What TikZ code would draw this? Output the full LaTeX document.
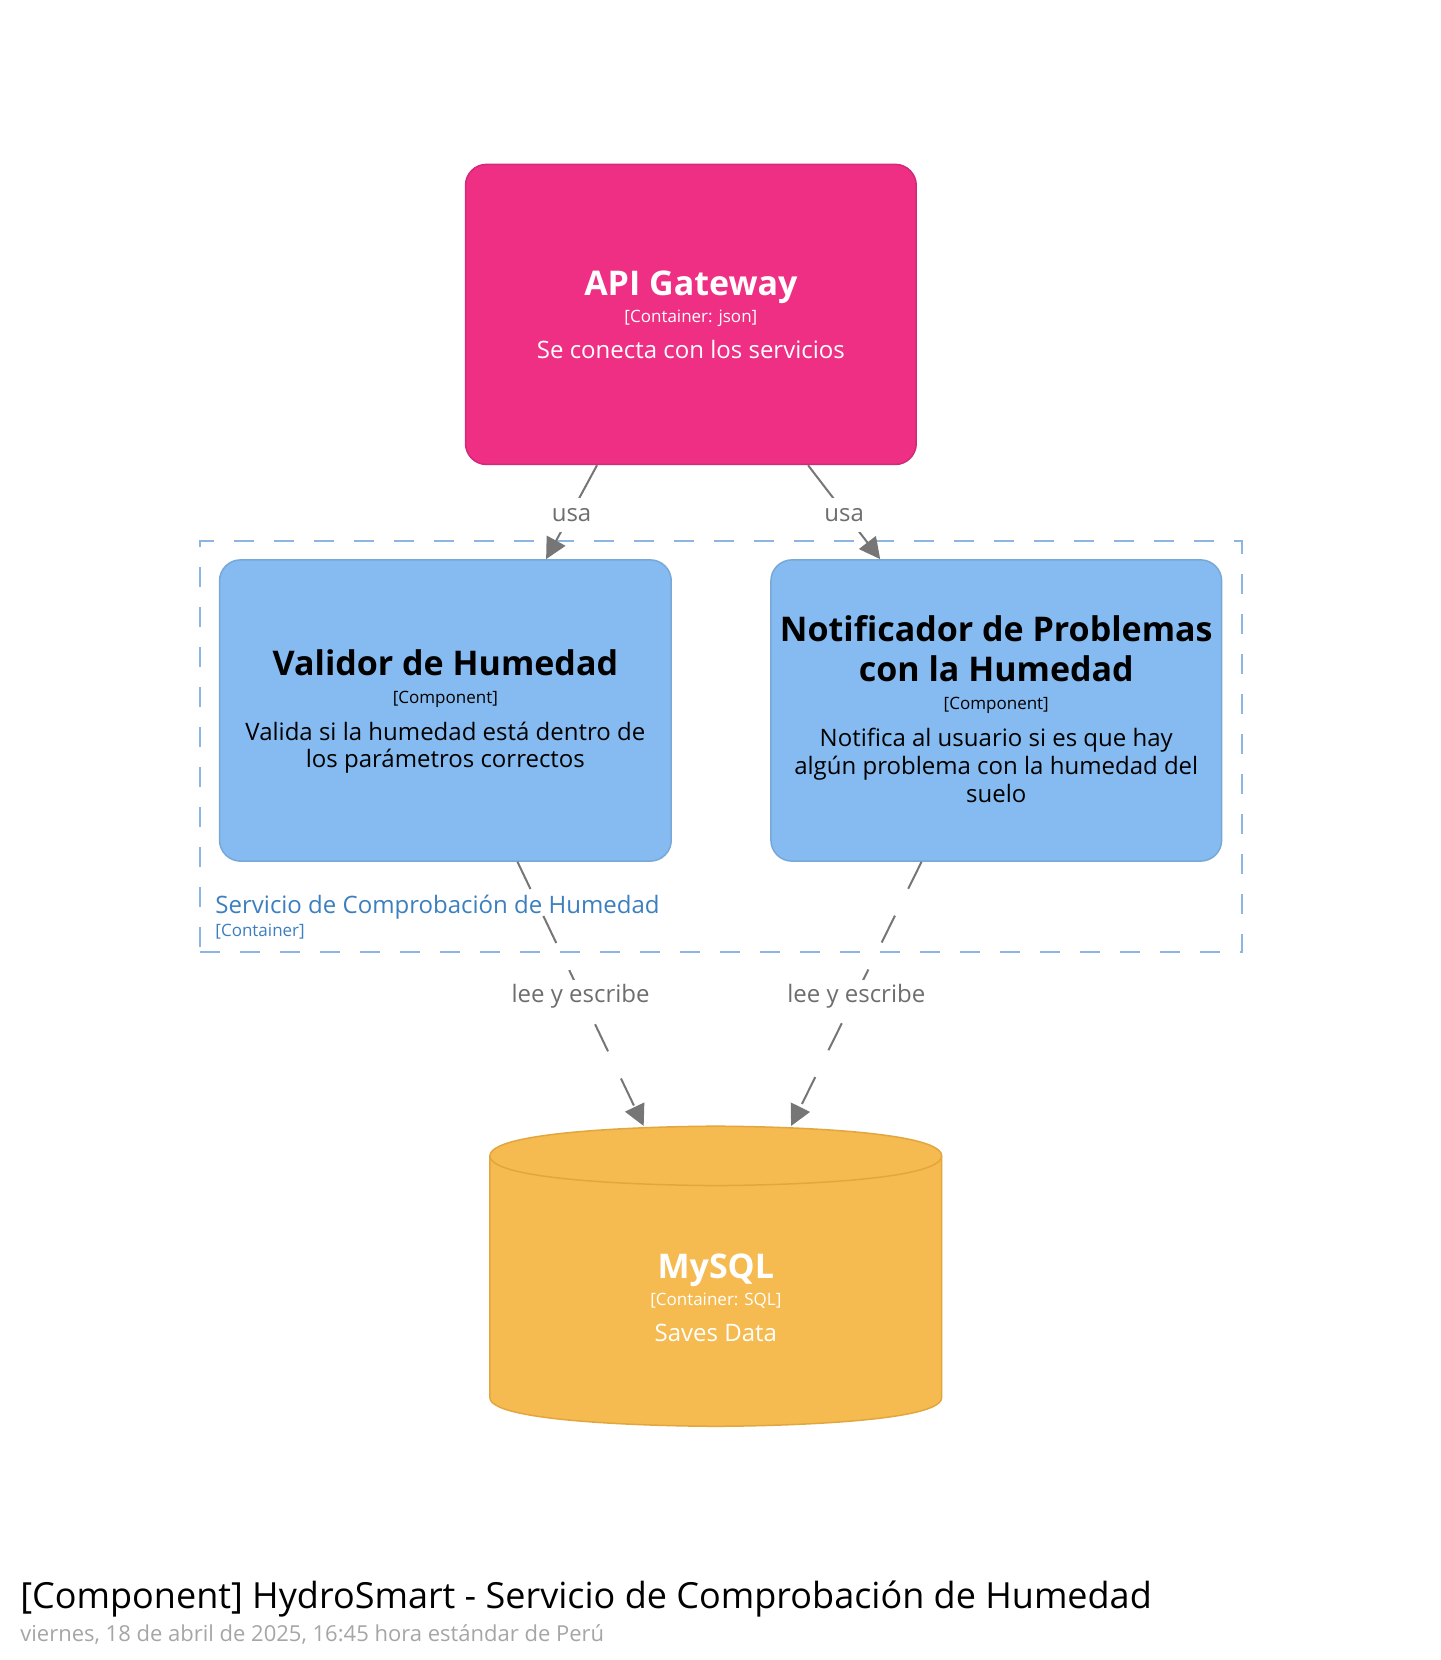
\documentclass[tikz,border=0pt]{standalone}
\usepackage{fontspec}
\setmainfont{Open Sans}
\usetikzlibrary{arrows.meta,calc}
\definecolor{apifill}{HTML}{EE2F84}
\definecolor{apiline}{HTML}{D2297A}
\definecolor{compfill}{HTML}{85BBF0}
\definecolor{compline}{HTML}{78A8D8}
\definecolor{dbfill}{HTML}{F5BB50}
\definecolor{dbline}{HTML}{E3A63E}
\definecolor{bound}{HTML}{8DB5E2}
\definecolor{boundtext}{HTML}{3C7FC0}
\definecolor{relline}{HTML}{767676}
\definecolor{reltext}{HTML}{6E6E6E}
\definecolor{datetext}{HTML}{A6A6A6}
\begin{document}
\begin{tikzpicture}[x=1.0604pt,y=-1.0604pt,
  box/.style={rounded corners=21pt, line width=1.5pt, inner sep=0pt},
  ttl/.style={anchor=base, inner sep=0pt, font=\fontsize{34}{39}\selectfont\bfseries},
  typ/.style={anchor=base, inner sep=0pt, font=\fontsize{17}{20}\selectfont},
  dsc/.style={anchor=base, inner sep=0pt, font=\fontsize{24}{28}\selectfont},
  rel/.style={draw=relline, line width=2pt, -{Triangle[length=21pt,width=21pt]}},
  reldash/.style={dash pattern=on 30pt off 30pt},
  rellbl/.style={fill=white, text=reltext, inner xsep=4pt, inner ysep=6pt, text height=17pt, text depth=5pt, yshift=-3pt, font=\fontsize{24}{28}\selectfont},
]
\useasboundingbox (0,0) rectangle (1358,1565.4);
\fill[white] (0,0) rectangle (1358,1565.4);

% container boundary
\node[draw=bound, line width=2pt, dash pattern=on 20pt off 20pt, minimum width=1041.3pt, minimum height=411.4pt, inner sep=0pt] (svc) at (680,704) {};
\node[anchor=base west, inner sep=0pt, text=boundtext, font=\fontsize{24}{28}\selectfont] (svc-t) at (203,861) {Servicio de Comprobación de Humedad};
\node[anchor=base west, inner sep=0pt, text=boundtext, font=\fontsize{17}{20}\selectfont] (svc-y) at (203,883) {[Container]};

% API Gateway
\node[box, fill=apifill, draw=apiline, minimum width=450.7pt, minimum height=300.1pt] (api) at (651.5,296.5) {};
\node[ttl, text=white] (api-t) at (651.5,279) {API Gateway};
\node[typ, text=white] (api-y) at (651.5,304) {[Container: json]};
\node[dsc, text=white] (api-d) at (651.5,338) {Se conecta con los servicios};

% Validor
\node[box, fill=compfill, draw=compline, minimum width=451.7pt, minimum height=301.2pt] (val) at (420,670) {};
\node[ttl] (val-t) at (420,637) {Validor de Humedad};
\node[typ] (val-y) at (420,663) {[Component]};
\node[dsc] (val-d1) at (420,698) {Valida si la humedad está dentro de};
\node[dsc] (val-d2) at (420,724) {los parámetros correctos};

% Notificador
\node[box, fill=compfill, draw=compline, minimum width=450.7pt, minimum height=301.2pt] (notif) at (939.5,670) {};
\node[ttl] (notif-t1) at (939.5,605) {Notificador de Problemas};
\node[ttl] (notif-t2) at (939.5,643) {con la Humedad};
\node[typ] (notif-y) at (939.5,669) {[Component]};
\node[dsc] (notif-d1) at (939.5,704) {Notifica al usuario si es que hay};
\node[dsc] (notif-d2) at (939.5,730) {algún problema con la humedad del};
\node[dsc] (notif-d3) at (939.5,757) {suelo};

% MySQL
\node[minimum width=451.7pt, minimum height=300.1pt, inner sep=0pt] (db) at (675,1203.5) {};
\filldraw[fill=dbfill, draw=dbline, line width=1.5pt]
  (462,1090) .. controls (462,1062) and (675,1062) .. (675,1062)
  .. controls (675,1062) and (888,1062) .. (888,1090)
  -- (888,1318) .. controls (888,1345) and (675,1345) .. (675,1345)
  .. controls (675,1345) and (462,1345) .. (462,1318) -- cycle;
\draw[dbline, line width=1.5pt]
  (462,1090) .. controls (462,1118) and (675,1118) .. (675,1118)
  .. controls (675,1118) and (888,1118) .. (888,1090);
\node[ttl, text=white] (db-t) at (675,1206) {MySQL};
\node[typ, text=white] (db-y) at (675,1231) {[Container: SQL]};
\node[dsc, text=white] (db-d) at (675,1265) {Saves Data};

% relations
\draw[rel] ($(api.south)+(-88.5,0)$) -- node[rellbl] (r1) {usa} ($(val.north)+(95,0)$);
\draw[rel] ($(api.south)+(110.5,0)$) -- node[rellbl] (r2) {usa} ($(notif.north)+(-109.5,0)$);
\draw[rel, reldash] ($(val.south)+(68,0)$) -- node[rellbl] (r3) {lee y escribe} ($(db.north)+(-68,0)$);
\draw[rel, reldash] ($(notif.south)+(-70.5,0)$) -- node[rellbl] (r4) {lee y escribe} ($(db.north)+(71,0)$);

% title
\node[anchor=base west, inner sep=0pt, font=\fontsize{36}{42}\selectfont] (title) at (19,1517) {[Component] HydroSmart - Servicio de Comprobación de Humedad};
\node[anchor=base west, inner sep=0pt, text=datetext, font=\fontsize{22}{26}\selectfont] (date) at (19,1548) {viernes, 18 de abril de 2025, 16:45 hora estándar de Perú};
\end{tikzpicture}
\end{document}
